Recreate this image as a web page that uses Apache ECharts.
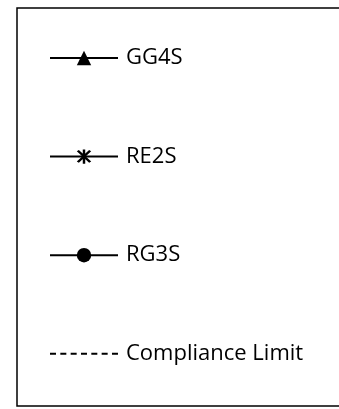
<!DOCTYPE html>
<html>
<head>
<meta charset="utf-8">
<script src="https://cdn.jsdelivr.net/npm/echarts@6/dist/echarts.min.js"></script>
<style>
  html, body { margin: 0; padding: 0; background: #fff; }
  #main { width: 339px; height: 409px; }
</style>
</head>
<body>
<div id="main"></div>
<script>
// legend entries only, the plot itself is not part of the picture
var seriesNames = ['GG4S', 'RE2S', 'RG3S', 'Compliance Limit'];
var seriesSymbols = ['triangle', 'asterisk', 'circle', 'none'];
var seriesDash = ['solid', 'solid', 'solid', [6, 4.33]];

// star marker drawn as three filled bars
var asteriskPath = 'path://M44 0L56 0L56 100L44 100Z' +
  'M25 4L85 84L75 92L15 12Z' +
  'M85 12L25 92L15 84L75 4Z';
// legend draws a circle for symbol 'none', so give it a path with no area
var emptyPath = 'path://M0 0L1 1';

var chart = echarts.init(document.getElementById('main'), null, { renderer: 'canvas' });

var series = seriesNames.map(function (name, i) {
  var sym = seriesSymbols[i];
  if (sym === 'asterisk') sym = asteriskPath;
  if (sym === 'none') sym = emptyPath;
  return {
    name: name,
    type: 'line',
    data: [],
    symbol: sym,
    color: '#000',
    itemStyle: { borderWidth: 0 },
    lineStyle: { color: '#000', width: 2, type: seriesDash[i] }
  };
});

chart.setOption({
  animation: false,
  xAxis: { show: false, type: 'value' },
  yAxis: { show: false, type: 'value' },
  grid: { left: 0, right: 0, top: 0, bottom: 0 },
  graphic: [{
    type: 'rect',
    shape: { x: 17, y: 8, width: 400, height: 398 },
    style: { fill: 'none', stroke: '#000', lineWidth: 1.5 },
    silent: true,
    z: 0
  }],
  legend: {
    orient: 'vertical',
    left: 49,
    top: 47,
    padding: 0,
    itemWidth: 68,
    itemHeight: 18,
    itemGap: 76.6,
    selectedMode: false,
    data: seriesNames,
    textStyle: {
      color: '#000',
      fontFamily: 'Open Sans',
      fontSize: 22,
      lineHeight: 16,
      padding: [0, 0, 0, 3]
    }
  },
  series: series
});
</script>
</body>
</html>
